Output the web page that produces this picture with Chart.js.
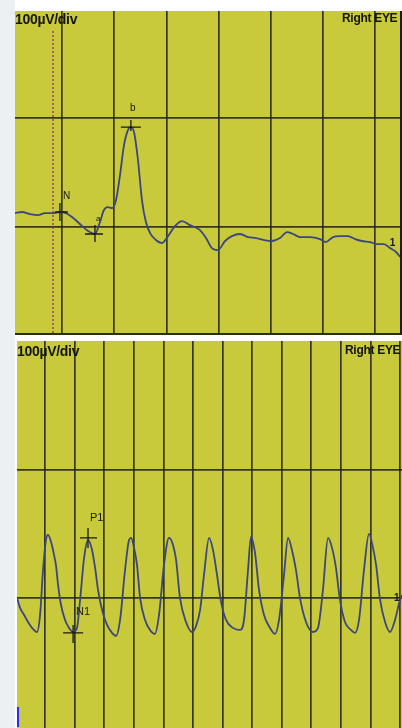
<!DOCTYPE html>
<html>
<head>
<meta charset="utf-8">
<script src="https://cdn.jsdelivr.net/npm/chart.js@4.4.1/dist/chart.umd.min.js"></script>
<style>
  html, body { margin: 0; padding: 0; background: #fff; width: 402px; height: 728px; overflow: hidden; }
  .strip { position: absolute; left: 0; top: 0; width: 15px; height: 728px; background: #edf0f3; }
  .panel { position: absolute; background: #c9c93c; }
  #topPanel { left: 15px; top: 11px; width: 385px; height: 322px; border-right: 2px solid #1c1c12; border-bottom: 2px solid #2c2c1c; }
  #bottomPanel { left: 17px; top: 341px; width: 385px; height: 387px; }
  .lbl { position: absolute; font-family: "Liberation Sans", Arial, sans-serif; font-weight: bold; color: #141410; z-index: 2; letter-spacing: -0.3px; }
  .blip { position: absolute; left: 17px; top: 707px; width: 2px; height: 20px; background: #2b2bff; }
</style>
</head>
<body>
<div class="strip"></div>
<div class="panel" id="topPanel"><canvas id="topChart"></canvas></div>
<div class="panel" id="bottomPanel"><canvas id="bottomChart"></canvas></div>
<div class="lbl" style="left:15px;top:11px;font-size:14px;">100µV/div</div>
<div class="lbl" style="left:342px;top:11px;font-size:12px;">Right EYE</div>
<div class="lbl" style="left:17px;top:343px;font-size:14px;">100µV/div</div>
<div class="lbl" style="left:345px;top:343px;font-size:12px;">Right EYE</div>
<div class="blip"></div>
<script>
// top trace: flash VEP, time in ms, amplitude in µV
const topTimes = [-22.5,-19.2,-15.3,-11.5,-8.1,-4.3,-1,1.9,4.8,8.6,12.5,15.8,18.2,20.1,22,24,25.9,27.8,29.7,31.6,33,34.5,36.4,38.3,40.2,42.2,45,47.9,50.8,54.1,57.5,61.3,66.1,69,71.8,74.7,78.1,81.4,85.3,89.1,93,96.8,100.6,104.4,107.8,110.7,114,118.8,123.6,126.4,129.8,133.2,137,140.4,143.7,147.5,150.9,154.2,157.1,160,162];
const topAmps = [12.8,13.8,11.9,11,12.8,12.8,13.8,12.8,9.2,2.8,-3.7,-6.4,4.6,15.6,18.3,17.4,24.8,47.7,75.2,89,91.7,87.2,61.5,24.8,4.6,-5.5,-11.9,-14.7,-8.3,0.9,5.5,1.8,-2.8,-10.1,-19.3,-21.1,-12.8,-8.3,-6.4,-9.2,-10.1,-11.9,-12.8,-10.1,-4.6,-6.4,-9.2,-9.2,-11,-13.8,-9.2,-8.3,-8.3,-11,-12.8,-13.8,-15.6,-15.6,-19.3,-22.9,-27.5];
const topGridMs = [0, 25, 50, 75, 100, 125, 150];
const topGridUv = [0, 100];
const stimulusMs = -4.3;
const topMarkLabels = ['N', 'a', 'b', '1'];
const topMarkMs = [-1, 15.8, 33, 158];
const topMarkUv = [13.8, -6.4, 91.7, -14.7];

// bottom trace: steady state response
const bottomTimes = [-23.6,-21.1,-17.7,-14.4,-11,-6.8,-4.2,-1.7,0.8,2.5,5.1,7.6,9.3,11,13.5,16.9,20.3,23.7,27,29.6,33,36.3,39.7,42.3,44.8,48.2,52.4,56.6,60,63.4,67.6,71,72.7,75.2,77.7,80.3,84.5,88.7,92.9,96.3,100.5,104.7,107.3,110.7,114,119.1,124.2,127.6,131,134.3,138.6,141.9,145.3,148.7,152.9,158.8,164.8,168.1,171.5,174,177.4,180.8,185,190.1,194.3,197.7,201.9,205.3,208.6,212,215.4,220.5,226.4,230.6,234.8,239.1,242.5,245.8,249.2,253.4,258.5,261.9,265.3,269.5,273.7,277.1,279.7,283.1,287.3,291.5,295.7,299.9,301.6];
const bottomAmps = [0,-7.8,-13.3,-18.8,-23.4,-26.6,-13.3,21.9,45.3,49.2,43.7,33.6,25,10.2,-5.5,-17.2,-23.4,-26.6,-23.4,-1.6,31.2,45.3,37.5,23.4,6.2,-9.4,-21.1,-27.3,-29.7,-17.2,21.9,45.3,46.9,39.1,25.8,0,-17.2,-25,-28.1,-13.3,25.8,46.9,43.7,29.7,0,-18.8,-26.6,-21.9,-9.4,18,46.9,37.5,18,-3.1,-17.2,-23.4,-25,-17.2,21.9,47.7,35.2,6.2,-13.3,-23.4,-28.1,-17.2,18,46.9,37.5,21.9,0,-18.8,-26.6,-23.4,6.2,46.9,39.1,23.4,-1.6,-18.8,-25,-27.3,-17.2,21.9,50,39.1,25.8,-1.6,-18.8,-26.6,-17.2,-1.6,2.3];
const bottomGridMs = [0, 25, 50, 75, 100, 125, 150, 175, 200, 225, 250, 275, 300];
const bottomGridUv = [0, 100];
const bottomMarkLabels = ['P1', 'N1', '1'];
const bottomMarkMs = [36.3, 23.7, 295.7];
const bottomMarkUv = [46.9, -27.3, 0];

const GRID = 'rgba(32,35,26,0.88)';
const TRACE = '#3b4680';

// crosses and letters placed on the trace
const markerPlugin = {
  id: 'markers',
  afterDatasetsDraw(chart, args, opts) {
    const ctx = chart.ctx;
    const x = chart.scales.x, y = chart.scales.y;
    ctx.save();
    ctx.strokeStyle = '#1a1a12';
    ctx.fillStyle = '#1a1a12';
    ctx.lineWidth = 1.3;
    (opts.labels || []).forEach(function(label, i) {
      const px = x.getPixelForValue(opts.xs[i]);
      const py = y.getPixelForValue(opts.ys[i]);
      const st = opts.styles[i];
      if (st.cross) {
        ctx.beginPath();
        ctx.moveTo(px - st.cross[0], py + st.cross[4]);
        ctx.lineTo(px + st.cross[1], py + st.cross[4]);
        ctx.moveTo(px + st.cross[5], py - st.cross[2]);
        ctx.lineTo(px + st.cross[5], py + st.cross[3]);
        ctx.stroke();
      }
      ctx.font = st.font;
      ctx.textBaseline = 'middle';
      ctx.fillText(label, px + st.dx, py + st.dy);
    });
    ctx.restore();
  }
};

// dotted stimulus line on the top panel
const stimulusPlugin = {
  id: 'stimulus',
  beforeDatasetsDraw(chart, args, opts) {
    if (opts.at === undefined) return;
    const ctx = chart.ctx;
    const px = chart.scales.x.getPixelForValue(opts.at);
    ctx.save();
    ctx.strokeStyle = '#a2336a';
    ctx.lineWidth = 1.4;
    ctx.setLineDash([2, 2]);
    ctx.beginPath();
    ctx.moveTo(px, chart.chartArea.top + 20);
    ctx.lineTo(px, chart.chartArea.bottom);
    ctx.stroke();
    ctx.restore();
  }
};

function axis(min, max, grid) {
  return {
    type: 'linear',
    min: min,
    max: max,
    afterBuildTicks: function(scale) {
      scale.ticks = grid.map(function(v) { return { value: v }; });
    },
    ticks: { display: false },
    border: { display: false },
    grid: { color: GRID, lineWidth: 1.7, drawTicks: false }
  };
}

function makeChart(id, times, amps, xMin, xMax, yMin, yMax, gridMs, gridUv, markers, stim) {
  return new Chart(document.getElementById(id), {
    type: 'line',
    data: {
      datasets: [{
        data: times.map(function(t, i) { return { x: t, y: amps[i] }; }),
        borderColor: TRACE,
        borderWidth: 1.8,
        pointRadius: 0,
        cubicInterpolationMode: 'monotone',
        fill: false
      }]
    },
    options: {
      responsive: true,
      maintainAspectRatio: false,
      animation: false,
      layout: { padding: 0 },
      plugins: {
        legend: { display: false },
        tooltip: { enabled: false },
        markers: markers,
        stimulus: { at: stim }
      },
      scales: {
        x: axis(xMin, xMax, gridMs),
        y: axis(yMin, yMax, gridUv)
      }
    },
    plugins: [markerPlugin, stimulusPlugin]
  });
}

makeChart('topChart', topTimes, topAmps, -22.5, 161.9, -97.2, 198.2, topGridMs, topGridUv, {
  labels: topMarkLabels, xs: topMarkMs, ys: topMarkUv,
  styles: [
    { cross: [5, 8, 9, 9, 0, 0], dx: 3, dy: -16, font: '10px "Liberation Sans", Arial' },
    { cross: [10, 8, 9, 8, 0, 0], dx: 1, dy: -15, font: '8px "Liberation Sans", Arial' },
    { cross: [10, 10, 7, 4, 0, 0], dx: -1, dy: -19, font: '10px "Liberation Sans", Arial' },
    { dx: -2, dy: 0, font: 'bold 10px "Liberation Sans", Arial' }
  ]
}, stimulusMs);

makeChart('bottomChart', bottomTimes, bottomAmps, -23.7, 301.6, -101.6, 200.7, bottomGridMs, bottomGridUv, {
  labels: bottomMarkLabels, xs: bottomMarkMs, ys: bottomMarkUv,
  styles: [
    { cross: [8, 9, 10, 10, 0, 0], dx: 2, dy: -20, font: '11px "Liberation Sans", Arial' },
    { cross: [10, 10, 8, 10, 0, 0], dx: 3, dy: -21, font: '11px "Liberation Sans", Arial' },
    { dx: -1, dy: 0, font: 'bold 10px "Liberation Sans", Arial' }
  ]
}, undefined);
</script>
</body>
</html>
